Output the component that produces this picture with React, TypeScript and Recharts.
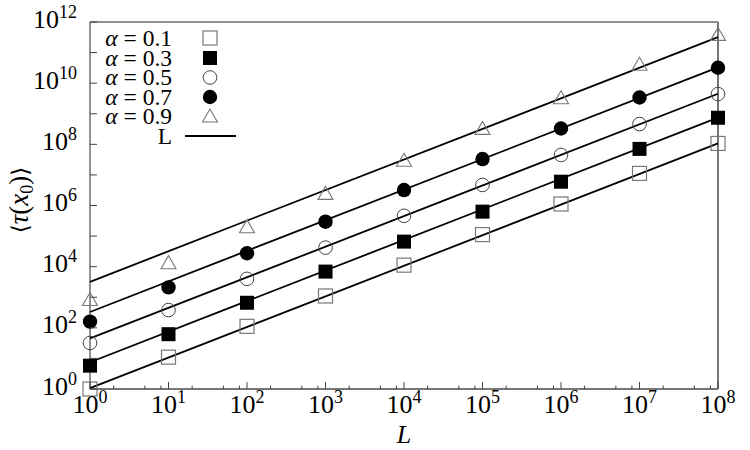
import React from 'react';
import { ScatterChart, Scatter, XAxis, YAxis } from 'recharts';

// system sizes L
const L_VALUES = [1, 1e1, 1e2, 1e3, 1e4, 1e5, 1e6, 1e7, 1e8];

// mean first passage time <tau(x0)>
const TAU_A01 = [1, 11, 112, 1.1e3, 1.12e4, 1.12e5, 1.12e6, 1.12e7, 1.07e8];
const TAU_A03 = [5.8, 62, 660, 6.9e3, 6.6e4, 6.3e5, 6.0e6, 7.1e7, 7.4e8];
const TAU_A05 = [32, 380, 4.0e3, 4.2e4, 4.6e5, 4.7e6, 4.5e7, 4.6e8, 4.4e9];
const TAU_A07 = [160, 2.1e3, 2.75e4, 2.95e5, 3.2e6, 3.3e7, 3.3e8, 3.4e9, 3.2e10];
const TAU_A09 = [810, 1.3e4, 1.95e5, 2.4e6, 2.9e7, 3.2e8, 3.2e9, 4.0e10, 3.8e11];

// fitted lines ~ L (endpoints at L = 1 and L = 1e8)
const FIT_L = [1, 1e8];
const FIT_A01 = [1.07, 1.07e8];
const FIT_A03 = [7.5, 7.5e8];
const FIT_A05 = [45, 4.5e9];
const FIT_A07 = [330, 3.3e10];
const FIT_A09 = [3200, 3.2e11];

const ALPHAS = ['0.1', '0.3', '0.5', '0.7', '0.9'];

const X_DECADES = [0, 1, 2, 3, 4, 5, 6, 7, 8];
const X_MINOR = [2, 5, 8];
const Y_DECADES = [0, 1, 2, 3, 4, 5, 6, 7, 8, 9, 10, 11, 12];

const FONT = "'Liberation Serif', 'DejaVu Serif', serif";

const pts = (xs: number[], ys: number[]) => xs.map((x, i) => ({ x, y: ys[i] }));

const xTicks: number[] = [];
X_DECADES.forEach((d) => {
  xTicks.push(Math.pow(10, d));
  if (d < 8) X_MINOR.forEach((m) => xTicks.push(m * Math.pow(10, d)));
});
const yTicks = Y_DECADES.map((d) => Math.pow(10, d));

// ── markers ────────────────────────────────────────────────

function OpenSquare({ cx, cy }: any) {
  return <rect x={cx - 7} y={cy - 7} width={14} height={14} fill="none" stroke="#777" strokeWidth={1.2} />;
}
function FilledSquare({ cx, cy }: any) {
  return <rect x={cx - 7} y={cy - 7} width={14} height={14} fill="#000" />;
}
function OpenCircle({ cx, cy }: any) {
  return <circle cx={cx} cy={cy} r={6.8} fill="none" stroke="#444" strokeWidth={1} />;
}
function FilledCircle({ cx, cy }: any) {
  return <circle cx={cx} cy={cy} r={7.2} fill="#000" />;
}
function OpenTriangle({ cx, cy }: any) {
  return (
    <polygon
      points={`${cx - 7.5},${cy + 5.5} ${cx + 7.5},${cy + 5.5} ${cx},${cy - 7.5}`}
      fill="none"
      stroke="#777"
      strokeWidth={1.1}
    />
  );
}
const NoDot = () => <g />;

const MARKERS = [OpenSquare, FilledSquare, OpenCircle, FilledCircle, OpenTriangle];

// ── ticks ──────────────────────────────────────────────────

const isDecade = (v: number) => {
  const e = Math.log10(v);
  return Math.abs(e - Math.round(e)) < 1e-6;
};

function XTick({ x, y, payload, top }: any) {
  const v = payload.value;
  const major = isDecade(v);
  const len = major ? 7 : 3.5;
  const dir = top ? 1 : -1;
  return (
    <g>
      <line x1={x} x2={x} y1={y} y2={y + dir * len} stroke="#444" strokeWidth={1} />
      {major && !top && (
        <text x={x} y={y + 24} textAnchor="middle" fontFamily={FONT} fontSize={26} fill="#000">
          <tspan>10</tspan>
          <tspan dy={-10} fontSize={18}>{Math.round(Math.log10(v))}</tspan>
        </text>
      )}
    </g>
  );
}

function YTick({ x, y, payload, right }: any) {
  const e = Math.round(Math.log10(payload.value));
  const dir = right ? -1 : 1;
  return (
    <g>
      <line x1={x} x2={x + dir * 7} y1={y} y2={y} stroke="#444" strokeWidth={1} />
      {!right && e % 2 === 0 && (
        <text x={x - 13} y={y + 5.5} textAnchor="end" fontFamily={FONT} fontSize={26} fill="#000">
          <tspan>10</tspan>
          <tspan dy={-10} fontSize={18}>{e}</tspan>
        </text>
      )}
    </g>
  );
}

// ── legend overlay ─────────────────────────────────────────

function LegendOverlay() {
  const rows = [38, 58, 77.5, 97, 116.5];
  return (
    <svg width={750} height={450} style={{ position: 'absolute', left: 0, top: 0, pointerEvents: 'none' }}>
      {ALPHAS.map((a, i) => {
        const M = MARKERS[i];
        return (
          <g key={a}>
            <text x={172} y={rows[i] + 7.5} textAnchor="end" fontFamily={FONT} fontSize={23.5}>
              <tspan fontStyle="italic">α</tspan>
              <tspan> = {a}</tspan>
            </text>
            <M cx={210} cy={rows[i]} />
          </g>
        );
      })}
      <text x={172} y={136 + 7.5} textAnchor="end" fontFamily={FONT} fontSize={23.5}>L</text>
      <line x1={185} x2={236} y1={136} y2={136} stroke="#000" strokeWidth={1.8} />
      {/* axis titles */}
      <text x={404} y={443} textAnchor="middle" fontFamily={FONT} fontSize={26} fontStyle="italic">L</text>
      <text
        transform="translate(28,200) rotate(-90)"
        textAnchor="middle"
        fontFamily={FONT}
        fontSize={27}
      >
        <tspan fontFamily="'DejaVu Serif', serif" fontSize={23}>⟨</tspan>
        <tspan fontStyle="italic">τ</tspan>
        <tspan>(</tspan>
        <tspan fontStyle="italic">x</tspan>
        <tspan dy={5} fontSize={18}>0</tspan>
        <tspan dy={-5}>)</tspan>
        <tspan fontFamily="'DejaVu Serif', serif" fontSize={23}>⟩</tspan>
      </text>
    </svg>
  );
}

// ── chart ──────────────────────────────────────────────────

export default function App() {
  const series = [TAU_A01, TAU_A03, TAU_A05, TAU_A07, TAU_A09];
  const fits = [FIT_A01, FIT_A03, FIT_A05, FIT_A07, FIT_A09];
  return (
    <div style={{ position: 'absolute', left: 0, top: 0, width: 750, height: 450, background: '#fff' }}>
      <ScatterChart width={750} height={450} margin={{ top: 0, right: 0, bottom: 0, left: 0 }}>
        <XAxis
          dataKey="x"
          type="number"
          scale="log"
          domain={[1, 1e8]}
          ticks={xTicks}
          interval={0}
          height={61}
          tickSize={0}
          tickMargin={0}
          tickLine={false}
          axisLine={{ stroke: '#777', strokeWidth: 2 }}
          tick={(p: any) => <XTick {...p} />}
        />
        <XAxis
          xAxisId="top"
          orientation="top"
          dataKey="x"
          type="number"
          scale="log"
          domain={[1, 1e8]}
          ticks={xTicks}
          interval={0}
          height={22}
          tickSize={0}
          tickMargin={0}
          tickLine={false}
          axisLine={{ stroke: '#222', strokeWidth: 1 }}
          tick={(p: any) => <XTick {...p} top />}
        />
        <YAxis
          dataKey="y"
          type="number"
          scale="log"
          domain={[1, 1e12]}
          ticks={yTicks}
          interval={0}
          width={90}
          tickSize={0}
          tickMargin={0}
          tickLine={false}
          axisLine={{ stroke: '#222', strokeWidth: 1 }}
          tick={(p: any) => <YTick {...p} />}
        />
        <YAxis
          yAxisId="right"
          orientation="right"
          dataKey="y"
          type="number"
          scale="log"
          domain={[1, 1e12]}
          ticks={yTicks}
          interval={0}
          width={32}
          tickSize={0}
          tickMargin={0}
          tickLine={false}
          axisLine={{ stroke: '#777', strokeWidth: 2 }}
          tick={(p: any) => <YTick {...p} right />}
        />
        {fits.map((f, i) => (
          <Scatter
            key={'fit' + i}
            data={pts(FIT_L, f)}
            line={{ stroke: '#000', strokeWidth: 1.8 }}
            shape={NoDot}
            isAnimationActive={false}
          />
        ))}
        {series.map((s, i) => {
          const M = MARKERS[i];
          return (
            <Scatter
              key={'s' + i}
              data={pts(L_VALUES, s)}
              shape={(p: any) => <M cx={p.cx} cy={p.cy} />}
              isAnimationActive={false}
            />
          );
        })}
      </ScatterChart>
      <LegendOverlay />
    </div>
  );
}
